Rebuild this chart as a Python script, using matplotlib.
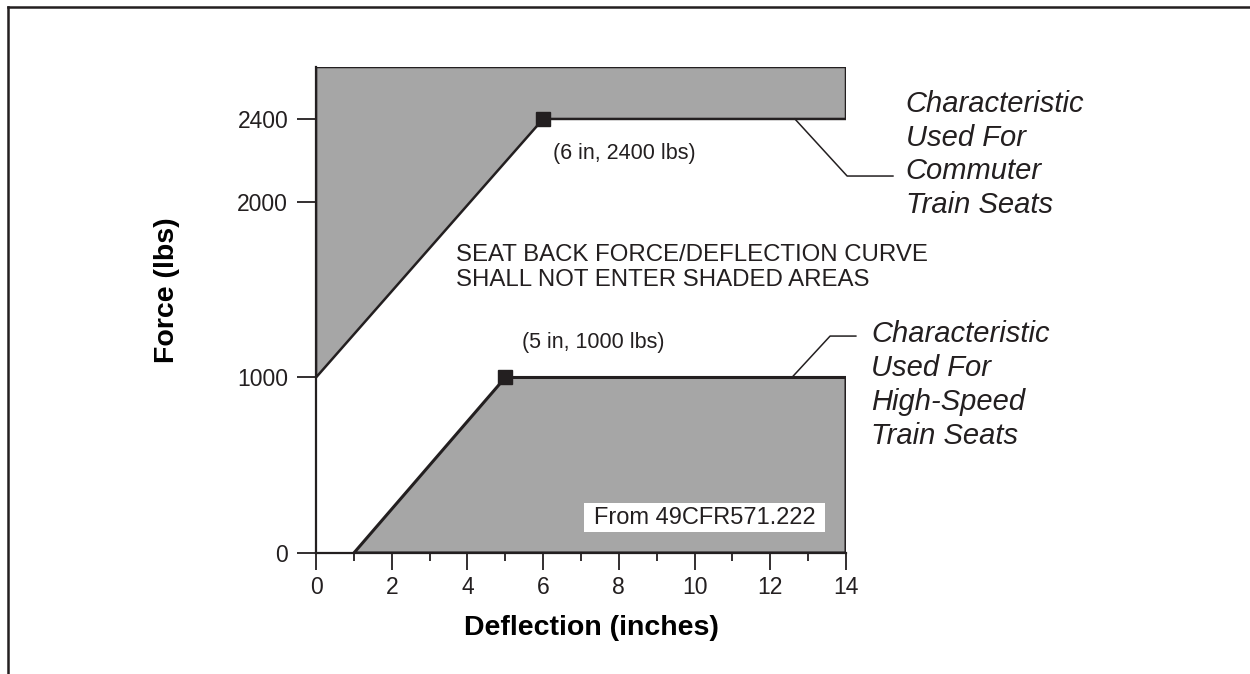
import numpy as np
import matplotlib.pyplot as plt
from matplotlib.lines import Line2D
from matplotlib.patches import Rectangle

plt.rcParams['font.family'] = ['Liberation Sans', 'DejaVu Sans']

DARK = '#231f20'
SHADE = '#a6a6a6'

# shaded areas (deflection in inches, force in lbs)
upper_x = [0, 6, 14, 14, 0]
upper_y = [1000, 2400, 2400, 2700, 2700]
lower_x = [1, 5, 14, 14]
lower_y = [0, 1000, 1000, 0]

points_x = [6, 5]
points_y = [2400, 1000]
point_labels = ['(6 in, 2400 lbs)', '(5 in, 1000 lbs)']

x_ticks = [0, 2, 4, 6, 8, 10, 12, 14]
y_ticks = [0, 1000, 2000, 2400]

# leader lines to the side labels
commuter_x = [12.65, 14.03, 15.24]
commuter_y = [2400, 2125, 2125]
highspeed_x = [12.57, 13.58, 14.26]
highspeed_y = [1000, 1236, 1236]

# the drawing is not to scale above 2000 lbs
force_breaks = [-10000, 0, 2000, 2400, 2700, 20000]
pos_breaks = [-10000, 0, 2000, 2473, 2769, 2769 + 17300]


def forward(v):
    return np.interp(v, force_breaks, pos_breaks)


def inverse(v):
    return np.interp(v, pos_breaks, force_breaks)


fig = plt.figure(figsize=(12.5, 6.74), dpi=100)
ax = fig.add_axes([316/1250, 121/674, 530/1250, 486/674])
ax.set_yscale('function', functions=(forward, inverse))
ax.set_xlim(0, 14)
ax.set_ylim(0, 2700)

ax.fill(upper_x, upper_y, facecolor=SHADE, edgecolor=DARK, linewidth=1.8, zorder=2)
ax.fill(lower_x, lower_y, facecolor=SHADE, edgecolor=DARK, linewidth=2.2, zorder=2)
ax.plot(points_x, points_y, 's', ms=9.5, color=DARK, zorder=5)

ax.annotate(point_labels[0], (points_x[0], points_y[0]), xytext=(7, -25),
            textcoords='offset points', ha='left', va='center', fontsize=15.5, color=DARK)
ax.annotate(point_labels[1], (points_x[1], points_y[1]), xytext=(12, 25),
            textcoords='offset points', ha='left', va='center', fontsize=15.5, color=DARK)

ax.plot(commuter_x, commuter_y, color=DARK, lw=1.1, clip_on=False, zorder=3)
ax.plot(highspeed_x, highspeed_y, color=DARK, lw=1.1, clip_on=False, zorder=3)

ax.text(0.264, 0.588, 'SEAT BACK FORCE/DEFLECTION CURVE\nSHALL NOT ENTER SHADED AREAS',
        transform=ax.transAxes, ha='left', va='center', fontsize=17.3, color=DARK,
        linespacing=1.18)
ax.text(1.113, 0.82, 'Characteristic\nUsed For\nCommuter\nTrain Seats',
        transform=ax.transAxes, ha='left', va='center', fontsize=21, style='italic',
        color=DARK, linespacing=1.27)
ax.text(1.047, 0.345, 'Characteristic\nUsed For\nHigh-Speed\nTrain Seats',
        transform=ax.transAxes, ha='left', va='center', fontsize=21, style='italic',
        color=DARK, linespacing=1.27)

ax.add_patch(Rectangle((0.5057, 0.0432), 0.4547, 0.0597, transform=ax.transAxes,
                       facecolor='white', edgecolor='none', zorder=4))
ax.text(0.733, 0.073, 'From 49CFR571.222', transform=ax.transAxes, ha='center',
        va='center', fontsize=17, color=DARK, zorder=5)

for s in ['top', 'right']:
    ax.spines[s].set_visible(False)
for s in ['left', 'bottom']:
    ax.spines[s].set_color(DARK)
    ax.spines[s].set_linewidth(1.6)

ax.set_xticks(x_ticks)
ax.set_xticks(range(1, 14, 2), minor=True)
ax.set_yticks(y_ticks)
ax.set_yticklabels([str(v) for v in y_ticks])
ax.yaxis.set_minor_locator(plt.NullLocator())
ax.tick_params(axis='x', which='major', length=12.5, width=1.3, pad=4, labelsize=16.5,
               colors=DARK)
ax.tick_params(axis='x', which='minor', length=6, width=1.3, colors=DARK)
ax.tick_params(axis='y', length=13.5, width=1.3, pad=6.5, labelsize=16.5, colors=DARK)

ax.set_xlabel('Deflection (inches)', fontsize=20.5, fontweight='bold')
ax.xaxis.set_label_coords(0.52, -0.128)
ax.set_ylabel('Force (lbs)', fontsize=20.5, fontweight='bold')
ax.yaxis.set_label_coords(-0.257, 0.54)

# frame around the figure (top and left only)
fig.add_artist(Line2D([8/1250, 1], [1 - 7/674, 1 - 7/674], transform=fig.transFigure,
                      color=DARK, lw=1.8))
fig.add_artist(Line2D([8/1250, 8/1250], [0, 1 - 7/674], transform=fig.transFigure,
                      color=DARK, lw=1.8))

fig.savefig('out.png', dpi=100)
